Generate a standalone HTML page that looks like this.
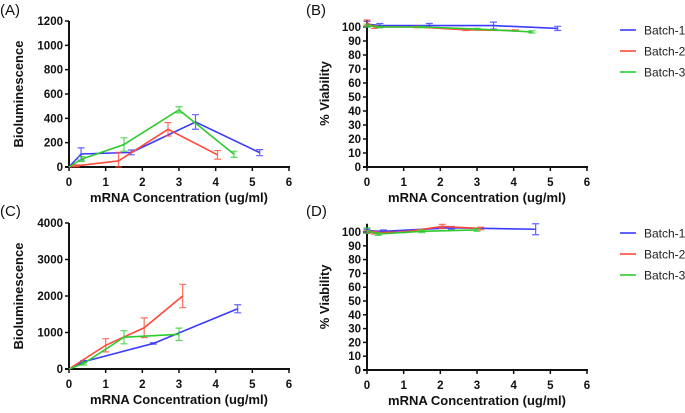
<!DOCTYPE html>
<html><head><meta charset="utf-8"><style>
body{margin:0;background:#fff;width:685px;height:408px;overflow:hidden;font-family:"Liberation Sans",sans-serif}
svg text{font-family:"Liberation Sans",sans-serif}
</style></head><body>
<svg id="fig" width="685" height="408" viewBox="0 0 685 408" xmlns="http://www.w3.org/2000/svg"></svg>
<script>
// Panel A (bioluminescence, set 1)
const aX1=[0,0.33,1.7,3.45,5.2], aY1=[0,107,120,370,118], aE1=[0,50,20,60,25];
const aX2=[0,0.2,1.35,2.7,4.05], aY2=[0,10,50,310,100], aE2=[0,8,70,55,35];
const aX3=[0,0.35,1.5,3,4.5], aY3=[0,65,185,470,105], aE3=[0,20,55,25,25];
// Panel B (viability, set 1)
const bX1=[0,0.35,1.7,3.45,5.2], bY1=[102,101,101,101,99], bE1=[2,1.5,1.5,2.5,1.5];
const bX2=[0,0.2,1.35,2.7,4.05], bY2=[103,100,100,98,97.5], bE2=[2,1,0.5,0.5,0.5];
const bX3=[0,0.35,1.5,3,4.5], bY3=[101,100,100,98.5,96.5], bE3=[1,0.5,0.5,0.5,0.8];
// Panel C (bioluminescence, set 2)
const cX1=[0,0.4,2.3,4.6], cY1=[0,200,700,1650], cE1=[0,30,20,110];
const cX2=[0,1.0,2.05,3.1], cY2=[0,650,1130,2000], cE2=[0,180,270,320];
const cX3=[0,0.4,1.5,3.0], cY3=[0,150,870,950], cE3=[0,40,180,170];
// Panel D (viability, set 2)
const dX1=[0,0.45,2.3,4.6], dY1=[101,100.5,103,102], dE1=[1,1,1,4];
const dX2=[0,0.2,1.0,2.05,3.1], dY2=[100,99.5,100,104,102.5], dE2=[1,1,0.5,1.5,1];
const dX3=[0,0.3,1.5,3.0], dY3=[101,98.5,100.5,101.5], dE3=[2,1,1,1];
const xTicks=[0,1,2,3,4,5,6];
const lumTicksA=[0,200,400,600,800,1000,1200];
const lumTicksC=[0,1000,2000,3000,4000];
const vTicks=[0,10,20,30,40,50,60,70,80,90,100];
const batchNames=["Batch-1","Batch-2","Batch-3"];
const colors=["#3b3bff","#ff4a3a","#2ecb2e"];

const NS="http://www.w3.org/2000/svg";
const svg=document.getElementById('fig');
function mk(tag,attrs,parent){const e=document.createElementNS(NS,tag);for(const k in attrs)e.setAttribute(k,attrs[k]);(parent||svg).appendChild(e);return e;}

function panel(id,label,lx,ly,x0,x1,y0,yTop,ymax,yAxMax,yticks,ytitle,ytOff,series){
  const g=mk('g',{});
  
  
  const sx=v=>x0+(x1-x0)*v/6;
  const sy=v=>y0-(y0-yTop)*v/ymax;
  const t=mk('text',{x:lx,y:ly,'font-size':15,fill:'#111'},g);t.textContent=label;
  
  const ya=mk('line',{x1:x0,x2:x0,y1:y0,y2:sy(yAxMax),stroke:'#111','stroke-width':2},g);
  
  const xa=mk('line',{x1:x0-4,x2:x1+1,y1:y0,y2:y0,stroke:'#111','stroke-width':2},g);
  
  yticks.forEach(v=>{
    mk('line',{x1:x0-4,x2:x0,y1:sy(v),y2:sy(v),stroke:'#111','stroke-width':1.5},g);
    const tt=mk('text',{x:x0-6,y:sy(v)+4,'font-size':11.5,'font-weight':'bold','text-anchor':'end',fill:'#111'},g);
    tt.textContent=v;
    
  });
  xTicks.forEach(v=>{
    mk('line',{x1:sx(v),x2:sx(v),y1:y0,y2:y0+4,stroke:'#111','stroke-width':1.5},g);
    const tt=mk('text',{x:sx(v),y:y0+19,'font-size':11.5,'font-weight':'bold','text-anchor':'middle',fill:'#111'},g);
    tt.textContent=v;
    
  });
  const xt=mk('text',{x:(x0+x1)/2,y:y0+35,'font-size':13,'font-weight':'bold','text-anchor':'middle',fill:'#111'},g);
  xt.textContent='mRNA Concentration (ug/ml)';
  
  const cy=(y0+sy(yAxMax))/2;
  const yx=x0-ytOff;
  const yt=mk('text',{x:yx,y:cy,'font-size':13,'font-weight':'bold','text-anchor':'middle',fill:'#111',transform:`rotate(-90 ${yx} ${cy})`},g);
  yt.textContent=ytitle;
  
  series.forEach((s,i)=>{
    const [xs,ys,es]=s;const c=colors[i];
    const sg=mk('g',{},g);
    
    
    xs.forEach((x,j)=>{
      if(!es[j])return;
      const px=sx(x),a=sy(ys[j]+es[j]),b=sy(Math.max(0,ys[j]-es[j]));
      const eb=mk('path',{d:`M${px} ${a}V${b}M${px-3.5} ${a}H${px+3.5}M${px-3.5} ${b}H${px+3.5}`,stroke:c,'stroke-width':1.2,fill:'none','stroke-opacity':0.8},sg);
      
    });
    const pl=mk('polyline',{points:xs.map((x,j)=>sx(x)+','+sy(ys[j])).join(' '),stroke:c,'stroke-width':1.6,fill:'none'},sg);
    
  });
}
function legend(x,y){
  const g=mk('g',{});
  
  
  batchNames.forEach((n,i)=>{
    const yy=y+i*21;
    mk('line',{x1:x,x2:x+16,y1:yy,y2:yy,stroke:colors[i],'stroke-width':1.6},g);
    const t=mk('text',{x:x+24,y:yy+4.5,'font-size':12,fill:'#222'},g);t.textContent=n;
    
  });
}
panel('a','(A)',0,15,69,289,167,21,1200,1200,lumTicksA,'Bioluminescence',46,[[aX1,aY1,aE1],[aX2,aY2,aE2],[aX3,aY3,aE3]]);
panel('b','(B)',306,15,367,587,167,27,100,105,vTicks,'% Viability',38,[[bX1,bY1,bE1],[bX2,bY2,bE2],[bX3,bY3,bE3]]);
panel('c','(C)',0,216,69,289,369,223,4000,4000,lumTicksC,'Bioluminescence',46,[[cX1,cY1,cE1],[cX2,cY2,cE2],[cX3,cY3,cE3]]);
panel('d','(D)',306,216,367,587,370,232,100,106,vTicks,'% Viability',38,[[dX1,dY1,dE1],[dX2,dY2,dE2],[dX3,dY3,dE3]]);
legend(620,30);
legend(620,233);
</script>
</body></html>
